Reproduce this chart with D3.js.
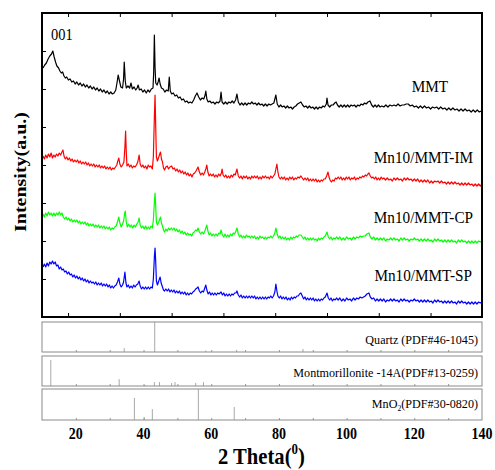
<!DOCTYPE html>
<html><head><meta charset="utf-8">
<script src="https://cdn.jsdelivr.net/npm/d3@7"></script>
<style>body{margin:0;background:#fff}svg{display:block}</style>
</head><body>
<script>
// ---------- DATA ----------
const seriesNames = ["MMT", "Mn10/MMT-IM", "Mn10/MMT-CP", "Mn10/MMT-SP"];
const seriesColors = ["#000000", "#ff0000", "#00ff00", "#0000ff"];
// [2theta, intensity (a.u., stacked)]
const mmt = [[10.3,249],[10.8,252],[11.3,254],[11.8,258],[12.3,261],[12.8,263],[13.2,266],[13.6,260],[14.0,255],[14.4,251],[14.9,249],[15.3,246],[15.7,244],[16.1,245],[16.5,241],[16.9,239],[17.3,240],[17.8,237],[18.3,238],[18.8,235],[19.3,236],[19.8,233],[20.3,235],[20.8,232],[21.3,234],[21.8,231],[22.3,233],[22.8,230],[23.3,232],[23.8,229],[24.3,231],[24.8,228],[25.3,230],[25.8,227],[26.3,229],[26.8,226],[27.3,228],[27.8,225],[28.3,227],[28.8,224],[29.3,226],[29.8,223],[30.3,225],[30.8,223],[31.3,224],[31.8,227],[32.2,235],[32.5,242],[32.9,236],[33.3,230],[33.8,229],[34.1,238],[34.3,255],[34.6,236],[34.9,229],[35.4,231],[35.9,229],[36.3,234],[36.7,228],[37.2,230],[37.7,227],[38.1,229],[38.4,232],[38.8,227],[39.3,228],[39.8,225],[40.3,227],[40.8,224],[41.3,227],[41.8,225],[42.3,228],[42.8,229],[43.0,245],[43.2,282],[43.4,250],[43.6,234],[44.0,232],[44.3,235],[44.6,239],[44.9,233],[45.3,229],[45.8,228],[46.3,225],[46.8,227],[47.3,226],[47.6,240],[47.9,226],[48.3,223],[48.8,224],[49.3,221],[49.8,222],[50.3,219],[50.8,220],[51.3,217],[51.8,218],[52.3,215],[52.8,216],[53.3,214],[53.8,215],[54.3,214],[54.8,217],[55.3,221],[55.8,224],[56.3,220],[56.8,217],[57.3,219],[57.8,218],[58.2,222],[58.4,226],[58.7,218],[59.1,215],[59.6,216],[60.1,214],[60.6,215],[61.1,213],[61.6,215],[62.1,214],[62.6,216],[62.9,225],[63.2,215],[63.7,213],[64.2,215],[64.7,213],[65.2,215],[65.7,214],[66.2,216],[66.7,214],[67.2,217],[67.6,223],[68.0,215],[68.5,212],[69.0,214],[69.5,212],[70.0,214],[70.5,212],[71.0,214],[71.5,213],[72.0,215],[72.5,213],[73.0,214],[73.5,212],[74.0,214],[74.5,212],[75.0,213],[75.5,211],[76.0,213],[76.5,211],[77.0,213],[77.5,212],[78.0,213],[78.5,214],[79.1,222],[79.5,213],[80.0,210],[80.5,212],[81.0,210],[81.5,211],[82.0,209],[82.5,211],[83.0,209],[83.5,210],[84.0,208],[84.5,210],[85.0,211],[85.5,213],[86.0,214],[86.5,215],[87.0,212],[87.5,210],[88.0,211],[88.5,209],[89.0,211],[89.5,209],[90.0,210],[90.5,208],[91.0,210],[91.5,208],[92.0,210],[92.5,209],[93.0,211],[93.5,210],[94.0,213],[94.2,219],[94.5,212],[95.0,210],[95.5,212],[96.0,212],[96.5,214],[96.9,215],[97.3,212],[97.8,210],[98.3,212],[98.8,210],[99.3,212],[99.8,210],[100.3,212],[100.8,210],[101.3,212],[101.8,211],[102.3,212],[102.8,210],[103.3,212],[103.8,211],[104.3,213],[104.8,212],[105.3,214],[105.8,213],[106.3,215],[106.9,216],[107.4,212],[107.9,210],[108.4,212],[108.9,210],[109.4,212],[109.9,210],[110.4,211],[111,210],[111.6,212],[112.2,210],[112.8,212],[113.4,211],[114,212],[114.6,211],[115.2,213],[115.8,211],[116.4,212],[117,212],[117.6,213],[118.2,213],[118.8,211],[119.4,212],[120,210],[120.6,211],[121.2,209],[121.8,211],[122.4,209],[123,211],[123.6,209],[124.2,210],[124.8,208],[125.4,210],[126,209],[126.6,210],[127.2,208],[127.8,210],[128.4,208],[129,209],[129.6,207],[130.2,209],[130.8,207],[131.4,209],[132,207],[132.6,208],[133.2,206],[133.8,208],[134.4,206],[135,208],[135.6,206],[136.2,207],[136.8,205],[137.4,207],[138,205],[138.6,207],[139.2,205],[139.8,206]];
const im = [[10.3,161],[10.7,158],[11.1,162],[11.5,159],[11.9,163],[12.3,160],[12.7,164],[13.1,159],[13.5,162],[13.9,160],[14.3,163],[14.7,161],[15.1,164],[15.5,162],[15.9,165],[16.2,167],[16.5,161],[16.9,158],[17.3,160],[17.7,157],[18.1,159],[18.5,156],[18.9,158],[19.3,155],[19.7,157],[20.1,155],[20.5,157],[20.9,154],[21.3,156],[21.7,153],[22.1,155],[22.5,153],[22.9,155],[23.3,152],[23.7,154],[24.1,151],[24.5,153],[24.9,151],[25.3,153],[25.7,150],[26.1,152],[26.5,150],[26.9,152],[27.3,149],[27.7,151],[28.1,149],[28.5,151],[28.9,148],[29.3,150],[29.7,148],[30.1,150],[30.5,147],[30.9,149],[31.3,148],[31.7,150],[32.1,152],[32.4,156],[32.7,159],[33.0,153],[33.4,150],[33.8,152],[34.2,155],[34.5,170],[34.7,186],[34.9,165],[35.1,151],[35.5,153],[35.9,150],[36.3,152],[36.7,149],[37.1,151],[37.5,150],[37.9,152],[38.3,155],[38.7,162],[39.0,153],[39.4,150],[39.8,152],[40.2,149],[40.6,151],[41.0,148],[41.4,152],[41.8,150],[42.2,151],[42.6,148],[42.9,160],[43.2,200],[43.4,222],[43.6,190],[43.8,160],[44.1,156],[44.4,159],[44.7,162],[45.0,165],[45.3,158],[45.6,155],[45.9,149],[46.2,147],[46.6,150],[47.0,151],[47.4,148],[47.8,150],[48.3,151],[48.7,148],[49.1,149],[49.5,146],[49.9,148],[50.3,145],[50.7,147],[51.1,144],[51.5,146],[51.9,143],[52.3,145],[52.7,142],[53.1,144],[53.5,141],[53.9,143],[54.3,140],[54.7,143],[55.1,144],[55.5,146],[55.8,148],[56.1,150],[56.5,145],[56.9,142],[57.3,144],[57.7,142],[58.1,145],[58.4,148],[58.7,152],[59.0,145],[59.4,141],[59.8,143],[60.2,141],[60.6,143],[61.0,140],[61.4,142],[61.8,140],[62.2,143],[62.6,141],[63.0,144],[63.2,148],[63.5,142],[63.9,140],[64.3,142],[64.7,139],[65.1,141],[65.5,139],[65.9,142],[66.3,140],[66.7,143],[67.1,142],[67.6,148],[68.0,141],[68.4,139],[68.8,141],[69.2,138],[69.6,141],[70.0,139],[70.4,141],[70.8,138],[71.2,140],[71.6,138],[72.0,141],[72.4,139],[72.8,141],[73.2,139],[73.6,141],[74.0,138],[74.4,140],[74.8,138],[75.2,141],[75.6,139],[76.0,141],[76.4,139],[76.8,140],[77.2,138],[77.6,141],[78.0,139],[78.4,141],[78.8,143],[79.1,148],[79.4,153],[79.7,145],[80.0,140],[80.4,138],[80.8,140],[81.2,138],[81.6,140],[82.0,137],[82.4,139],[82.8,137],[83.2,140],[83.6,138],[84.0,140],[84.4,137],[84.8,139],[85.2,138],[85.6,140],[86.0,139],[86.5,141],[86.9,139],[87.3,137],[87.7,139],[88.1,137],[88.5,139],[88.9,136],[89.3,138],[89.7,136],[90.1,138],[90.5,136],[90.9,138],[91.3,135],[91.7,137],[92.1,135],[92.5,137],[92.9,136],[93.3,138],[93.7,138],[94.1,141],[94.5,145],[94.8,140],[95.1,137],[95.5,135],[95.9,137],[96.3,136],[96.7,139],[97.1,138],[97.5,140],[97.9,138],[98.3,140],[98.7,137],[99.1,139],[99.5,137],[99.9,140],[100.3,138],[100.7,140],[101.1,137],[101.5,139],[101.9,138],[102.3,140],[102.7,137],[103.1,139],[103.5,138],[103.9,140],[104.3,139],[104.7,141],[105.1,140],[105.5,142],[105.9,141],[106.3,143],[106.6,144],[107.0,141],[107.4,139],[107.8,140],[108.2,138],[108.6,140],[109.0,137],[109.4,139],[109.8,137],[110.2,140],[110.6,138],[111,139],[111.5,137],[112,139],[112.5,137],[113,138],[113.5,136],[114,139],[114.5,137],[115,139],[115.5,137],[116,138],[116.5,136],[117,139],[117.5,137],[118,139],[118.5,137],[119,138],[119.5,136],[120,138],[120.5,136],[121,138],[121.5,135],[122,137],[122.5,135],[123,137],[123.5,135],[124,137],[124.5,134],[125,136],[125.5,134],[126,136],[126.5,135],[127,136],[127.5,134],[128,136],[128.5,134],[129,135],[129.5,133],[130,135],[130.5,133],[131,135],[131.5,133],[132,135],[132.5,133],[133,134],[133.5,132],[134,134],[134.5,132],[135,134],[135.5,132],[136,134],[136.5,132],[137,133],[137.5,131],[138,133],[138.5,131],[139,133],[139.5,131],[140,133]];
const cp = [[10.3,103],[10.7,100],[11.1,104],[11.5,101],[11.9,105],[12.3,102],[12.7,104],[13.1,101],[13.5,104],[13.9,101],[14.3,104],[14.7,102],[15.1,105],[15.5,102],[15.9,104],[16.3,100],[16.7,98],[17.1,100],[17.5,97],[17.9,99],[18.3,96],[18.7,98],[19.1,95],[19.5,97],[19.9,95],[20.3,97],[20.7,94],[21.1,96],[21.5,93],[21.9,95],[22.3,93],[22.7,95],[23.1,92],[23.5,94],[23.9,91],[24.3,93],[24.7,91],[25.1,93],[25.5,90],[25.9,92],[26.3,90],[26.7,92],[27.1,89],[27.5,91],[27.9,89],[28.3,91],[28.7,88],[29.1,90],[29.5,88],[29.9,90],[30.3,87],[30.7,89],[31.1,88],[31.5,90],[31.9,91],[32.3,95],[32.7,100],[33.0,94],[33.4,90],[33.8,93],[34.1,96],[34.4,103],[34.6,106],[34.9,95],[35.2,90],[35.6,93],[36.0,90],[36.4,92],[36.8,89],[37.2,92],[37.6,90],[38.0,93],[38.4,95],[38.7,99],[39.0,92],[39.4,89],[39.8,91],[40.2,88],[40.6,91],[41.0,88],[41.4,90],[41.8,88],[42.2,91],[42.6,89],[42.9,97],[43.2,115],[43.4,124],[43.6,110],[43.8,95],[44.1,92],[44.4,94],[44.7,97],[45.0,100],[45.3,94],[45.6,91],[45.9,87],[46.2,85],[46.6,88],[47.0,86],[47.4,89],[47.8,87],[48.2,89],[48.6,87],[49.0,89],[49.4,86],[49.8,88],[50.2,85],[50.6,87],[51.0,84],[51.4,86],[51.8,83],[52.2,85],[52.6,82],[53.0,84],[53.4,82],[53.8,83],[54.2,81],[54.6,84],[55.0,85],[55.4,87],[55.8,86],[56.1,89],[56.5,85],[56.9,83],[57.3,85],[57.7,83],[58.1,86],[58.4,89],[58.7,92],[59.0,86],[59.4,82],[59.8,84],[60.2,81],[60.6,83],[61.0,81],[61.4,83],[61.8,81],[62.2,84],[62.6,83],[62.9,87],[63.3,82],[63.7,80],[64.1,83],[64.5,80],[64.9,82],[65.3,80],[65.7,83],[66.1,81],[66.5,84],[66.9,83],[67.3,86],[67.6,89],[68.0,83],[68.4,80],[68.8,82],[69.2,79],[69.6,81],[70.0,79],[70.4,82],[70.8,80],[71.2,81],[71.6,79],[72.0,81],[72.4,79],[72.8,81],[73.2,78],[73.6,80],[74.0,78],[74.4,81],[74.8,79],[75.2,80],[75.6,78],[76.0,80],[76.4,78],[76.8,80],[77.2,79],[77.6,81],[78.0,79],[78.4,81],[78.8,84],[79.1,89],[79.5,83],[79.9,79],[80.3,81],[80.7,78],[81.1,80],[81.5,78],[81.9,80],[82.3,77],[82.7,79],[83.1,77],[83.5,80],[83.9,78],[84.3,80],[84.7,79],[85.1,81],[85.5,80],[85.9,82],[86.5,82],[86.9,80],[87.3,78],[87.7,80],[88.1,77],[88.5,79],[88.9,77],[89.3,79],[89.7,77],[90.1,79],[90.5,77],[90.9,78],[91.3,76],[91.7,79],[92.1,77],[92.5,79],[92.9,78],[93.3,80],[93.7,81],[94.2,85],[94.6,80],[95.0,78],[95.4,80],[95.8,77],[96.2,79],[96.6,78],[97,80],[97.5,78],[98,80],[98.5,77],[99,79],[99.5,77],[100,80],[100.5,78],[101,79],[101.5,77],[102,80],[102.5,78],[103,80],[103.5,79],[104,81],[104.5,80],[105,81],[105.5,81],[106,83],[106.6,84],[107,80],[107.5,78],[108,80],[108.5,77],[109,79],[109.5,77],[110,79],[110.5,77],[111,79],[111.5,76],[112,78],[112.5,77],[113,79],[113.5,77],[114,79],[114.5,77],[115,78],[115.5,76],[116,79],[116.5,77],[117,79],[117.5,77],[118,78],[118.5,76],[119,78],[119.5,77],[120,79],[120.5,77],[121,78],[121.5,76],[122,78],[122.5,76],[123,78],[123.5,76],[124,78],[124.5,76],[125,77],[125.5,75],[126,78],[126.5,76],[127,78],[127.5,76],[128,77],[128.5,75],[129,77],[129.5,75],[130,77],[130.5,75],[131,77],[131.5,75],[132,76],[132.5,74],[133,77],[133.5,75],[134,77],[134.5,75],[135,76],[135.5,74],[136,76],[136.5,74],[137,76],[137.5,74],[138,76],[138.5,74],[139,76],[139.5,75],[140,76]];
const sp = [[10.3,50],[10.7,53],[11.1,50],[11.5,54],[11.9,51],[12.3,55],[12.7,53],[13.1,56],[13.5,53],[13.9,55],[14.3,51],[14.7,52],[15.1,48],[15.5,50],[15.9,47],[16.3,48],[16.7,45],[17.1,46],[17.5,43],[17.9,45],[18.3,42],[18.7,43],[19.1,40],[19.5,42],[19.9,39],[20.3,41],[20.7,38],[21.1,40],[21.5,37],[21.9,39],[22.3,36],[22.7,38],[23.1,35],[23.5,37],[23.9,34],[24.3,36],[24.7,34],[25.1,35],[25.5,33],[25.9,35],[26.3,32],[26.7,34],[27.1,32],[27.5,34],[27.9,31],[28.3,33],[28.7,31],[29.1,33],[29.5,30],[29.9,32],[30.3,29],[30.7,31],[31.1,29],[31.5,31],[31.9,32],[32.3,35],[32.7,39],[33.0,33],[33.4,30],[33.8,32],[34.1,35],[34.3,40],[34.5,45],[34.8,34],[35.1,30],[35.5,32],[35.9,29],[36.3,31],[36.7,29],[37.1,32],[37.5,30],[37.9,32],[38.3,33],[38.7,36],[39.0,31],[39.4,28],[39.8,30],[40.2,28],[40.6,30],[41.0,28],[41.4,30],[41.8,28],[42.2,30],[42.6,29],[42.9,38],[43.2,60],[43.4,69],[43.6,55],[43.8,36],[44.1,32],[44.4,35],[44.7,38],[44.9,40],[45.2,34],[45.5,31],[45.9,27],[46.2,26],[46.6,28],[47.0,26],[47.4,28],[47.8,25],[48.2,27],[48.6,25],[49.0,27],[49.4,24],[49.8,26],[50.2,24],[50.6,26],[51.0,23],[51.4,25],[51.8,23],[52.2,25],[52.6,22],[53.0,24],[53.4,22],[53.8,24],[54.2,23],[54.6,25],[55.0,26],[55.4,28],[55.8,29],[56.1,30],[56.5,26],[56.9,24],[57.3,26],[57.7,25],[58.1,29],[58.4,32],[58.7,27],[59.1,23],[59.5,25],[59.9,22],[60.3,24],[60.7,22],[61.1,24],[61.5,22],[61.9,24],[62.3,23],[62.9,25],[63.3,22],[63.7,24],[64.1,21],[64.5,23],[64.9,21],[65.3,23],[65.7,21],[66.1,23],[66.5,22],[66.9,24],[67.3,24],[67.6,26],[68.0,22],[68.4,20],[68.8,22],[69.2,19],[69.6,21],[70.0,19],[70.4,21],[70.8,19],[71.2,21],[71.6,19],[72.0,21],[72.4,19],[72.8,21],[73.2,18],[73.6,20],[74.0,18],[74.4,20],[74.8,18],[75.2,20],[75.6,18],[76.0,20],[76.4,18],[76.8,20],[77.2,19],[77.6,21],[78.0,19],[78.4,21],[78.8,25],[79.1,33],[79.4,26],[79.7,21],[80.1,19],[80.5,21],[80.9,18],[81.3,20],[81.7,18],[82.1,20],[82.5,17],[82.9,19],[83.3,17],[83.7,20],[84.1,18],[84.5,20],[84.9,19],[85.3,21],[85.7,21],[86.1,23],[86.5,24],[86.9,21],[87.3,18],[87.7,20],[88.1,17],[88.5,19],[88.9,17],[89.3,19],[89.7,17],[90.1,19],[90.5,16],[90.9,18],[91.3,16],[91.7,18],[92.1,16],[92.5,18],[92.9,17],[93.3,19],[93.7,20],[94.2,24],[94.6,19],[95.0,17],[95.4,19],[95.8,16],[96.2,18],[96.6,17],[97,19],[97.5,17],[98,19],[98.5,16],[99,18],[99.5,16],[100,19],[100.5,17],[101,18],[101.5,16],[102,19],[102.5,17],[103,19],[103.5,18],[104,20],[104.5,19],[105,20],[105.5,21],[106,23],[106.6,24],[107,20],[107.5,18],[108,19],[108.5,16],[109,18],[109.5,16],[110,18],[110.5,16],[111,18],[111.5,15],[112,17],[112.5,16],[113,18],[113.5,16],[114,18],[114.5,16],[115,17],[115.5,15],[116,18],[116.5,16],[117,18],[117.5,16],[118,17],[118.5,15],[119,17],[119.5,16],[120,18],[120.5,16],[121,17],[121.5,15],[122,17],[122.5,15],[123,17],[123.5,15],[124,17],[124.5,15],[125,16],[125.5,14],[126,17],[126.5,15],[127,17],[127.5,15],[128,16],[128.5,14],[129,16],[129.5,14],[130,16],[130.5,14],[131,16],[131.5,14],[132,15],[132.5,13],[133,16],[133.5,14],[134,16],[134.5,14],[135,15],[135.5,13],[136,15],[136.5,13],[137,15],[137.5,13],[138,15],[138.5,13],[139,15],[139.5,14],[140,15]];
const seriesData = [mmt, im, cp, sp];

const refNames = ["Quartz (PDF#46-1045)", "Montmorillonite -14A(PDF#13-0259)", "MnO2(PDF#30-0820)"];
// [2theta, relative intensity %]
const quartz = [[34.3,13],[43.3,100],[58.4,5],[67.5,7],[87.1,10]];
const montmorillonite = [[12.6,87],[32.8,23],[40.4,3],[43.2,13],[44.7,13],[48.3,10],[49.3,13],[55.4,10],[57.7,13]];
const mno2 = [[37.3,71],[40.2,10],[42.6,35],[56.2,100],[66.8,42]];
const refData = [quartz, montmorillonite, mno2];

const xTickLabels = [20, 40, 60, 80, 100, 120, 140];
const mainXTicks = [17.7, 33.0, 48.3, 63.6, 78.9, 94.2, 109.5, 124.8];
const mainYTicks = [38, 76, 114, 152, 190, 228, 266];
const panelXTicks = [20, 30, 40, 50, 60, 70, 80, 90, 100, 110, 120, 130];

// ---------- LAYOUT ----------
const W = 495, H = 470;
const L = 42, R = 482, T = 13, B = 317;
const panelBoxes = [[322,352],[356,386],[389,420]];
const FONT = "'Liberation Serif','Times New Roman',serif";

const svg = d3.select("body").append("svg").attr("width", W).attr("height", H);
const x = d3.scaleLinear().domain([10,140]).range([L,R]);
const y = d3.scaleLinear().domain([0,304]).range([B,T]);

// series
const line = d3.line().x(d => x(d[0])).y(d => y(d[1]));
seriesData.forEach((s,i) => {
  svg.append("path").attr("d", line(s)).attr("fill","none")
    .attr("stroke", seriesColors[i]).attr("stroke-width",1.2).attr("stroke-linejoin","round");
});

// main frame
svg.append("rect").attr("x",L).attr("y",T).attr("width",R-L).attr("height",B-T)
  .attr("fill","none").attr("stroke","#000").attr("stroke-width",2);
svg.append("g").attr("transform",`translate(0,${B})`)
  .call(d3.axisBottom(x).tickValues(mainXTicks).tickSize(-4).tickFormat(""))
  .call(g => g.select(".domain").remove());
svg.append("g").attr("transform",`translate(0,${T})`)
  .call(d3.axisTop(x).tickValues(mainXTicks).tickSize(-4).tickFormat(""))
  .call(g => g.select(".domain").remove());
svg.append("g").attr("transform",`translate(${L},0)`)
  .call(d3.axisLeft(y).tickValues(mainYTicks).tickSize(-4).tickFormat(""))
  .call(g => g.select(".domain").remove());

function txt(px, py, str, size, weight, anchor, sx) {
  return svg.append("text").attr("transform",`translate(${px},${py}) scale(${sx},1)`)
    .attr("font-family",FONT).attr("font-size",size).attr("font-weight",weight)
    .attr("text-anchor",anchor).attr("fill","#000").text(str);
}

// series labels
const labelPos = [[448,92],[473,163],[473,223],[472,281]];
seriesNames.forEach((n,i) => txt(labelPos[i][0], labelPos[i][1], n, 17.5, "normal", "end", 0.87));
txt(51, 40, "001", 17, "normal", "start", 0.85);

// reference panels
refData.forEach((ref,i) => {
  const [pt,pb] = panelBoxes[i];
  const yp = d3.scaleLinear().domain([0,100]).range([pb,pt]);
  const g = svg.append("g");
  g.selectAll("line.stick").data(ref).join("line").attr("class","stick")
    .attr("x1",d=>x(d[0])).attr("x2",d=>x(d[0])).attr("y1",yp(0)).attr("y2",d=>yp(d[1]))
    .attr("stroke","#a8a8a8").attr("stroke-width",1);
  g.append("g").attr("transform",`translate(0,${pb})`)
    .call(d3.axisBottom(x).tickValues(panelXTicks).tickSize(-2).tickFormat(""))
    .call(a => a.select(".domain").remove())
    .call(a => a.selectAll("line").attr("stroke","#999"));
  g.append("rect").attr("x",L).attr("y",pt).attr("width",R-L).attr("height",pb-pt)
    .attr("fill","none").attr("stroke","#8a8a8a").attr("stroke-width",1);
});
const refLabelY = [344, 377, 408];
txt(478, refLabelY[0], refNames[0], 12.5, "normal", "end", 0.97);
txt(478, refLabelY[1], refNames[1], 12.5, "normal", "end", 0.97);
{
  const t = svg.append("text").attr("transform",`translate(478,${refLabelY[2]}) scale(0.97,1)`)
    .attr("font-family",FONT).attr("font-size",12.5).attr("text-anchor","end");
  t.append("tspan").text("MnO");
  t.append("tspan").attr("font-size",8).attr("dy",3).text("2");
  t.append("tspan").attr("dy",-3).text(refNames[2].slice(4));
}

// x tick labels
xTickLabels.forEach(v => txt(x(v), 439, String(v), 16.5, "bold", "middle", 0.85));

// axis titles
{
  const t = svg.append("text").attr("transform",`translate(218,464) scale(0.86,1)`)
    .attr("font-family",FONT).attr("font-size",24).attr("font-weight","bold");
  t.append("tspan").text("2 Theta(");
  t.append("tspan").attr("font-size",15).attr("dy",-10).text("0");
  t.append("tspan").attr("dy",10).text(")");
}
svg.append("text").attr("transform","translate(26,172) rotate(-90) scale(1,0.85)")
  .attr("font-family",FONT).attr("font-size",20).attr("font-weight","bold")
  .attr("text-anchor","middle").text("Intensity(a.u.)");
</script>
</body></html>
